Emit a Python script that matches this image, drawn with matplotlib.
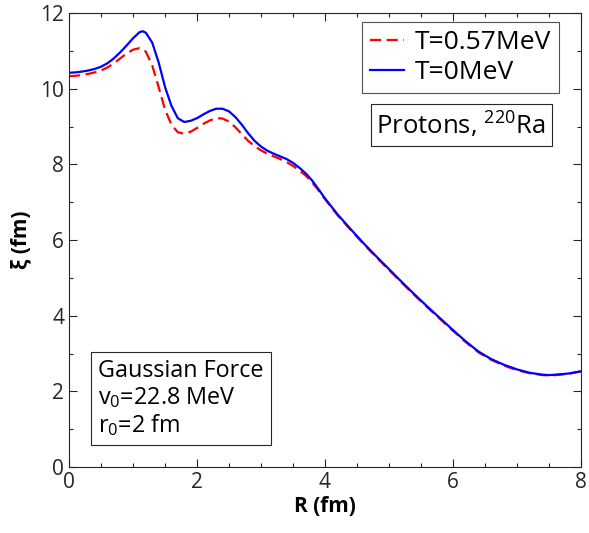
import matplotlib

matplotlib.use("Agg")
import matplotlib.pyplot as plt
from matplotlib.ticker import MultipleLocator

# radius grid (fm)
r_fm = [0.0, 0.1, 0.2, 0.3, 0.4, 0.5, 0.6, 0.7, 0.8, 0.9,
        1.0, 1.1, 1.15, 1.2, 1.3, 1.4, 1.5, 1.6, 1.7, 1.8, 1.9,
        2.0, 2.1, 2.2, 2.3, 2.4, 2.5, 2.6, 2.7, 2.8, 2.9,
        3.0, 3.1, 3.2, 3.3, 3.4, 3.5, 3.6, 3.7, 3.8, 3.9,
        4.0, 4.2, 4.4, 4.6, 4.8, 5.0, 5.2, 5.4, 5.6, 5.8,
        6.0, 6.2, 6.4, 6.6, 6.8, 7.0, 7.2, 7.4, 7.5, 7.6, 7.8, 8.0]

# coherence length, T = 0 MeV
xi_t0 = [10.42, 10.43, 10.45, 10.48, 10.52, 10.58, 10.67, 10.80, 10.96, 11.14,
         11.33, 11.49, 11.52, 11.48, 11.22, 10.70, 10.05, 9.55, 9.22, 9.12, 9.15,
         9.22, 9.32, 9.41, 9.47, 9.47, 9.40, 9.25, 9.05, 8.82, 8.62,
         8.47, 8.36, 8.28, 8.21, 8.14, 8.04, 7.91, 7.76, 7.57, 7.34,
         7.10, 6.67, 6.29, 5.92, 5.57, 5.23, 4.89, 4.56, 4.24, 3.93,
         3.62, 3.32, 3.05, 2.85, 2.70, 2.58, 2.49, 2.44, 2.43, 2.44, 2.47, 2.53]

# coherence length, T = 0.57 MeV
xi_t057 = [10.33, 10.34, 10.36, 10.39, 10.43, 10.48, 10.56, 10.67, 10.80, 10.93,
           11.03, 11.07, 11.05, 10.98, 10.62, 10.05, 9.45, 9.05, 8.85, 8.81, 8.86,
           8.96, 9.07, 9.16, 9.22, 9.21, 9.13, 8.98, 8.80, 8.62, 8.48,
           8.37, 8.28, 8.21, 8.14, 8.06, 7.96, 7.84, 7.70, 7.52, 7.31,
           7.08, 6.65, 6.27, 5.90, 5.55, 5.21, 4.87, 4.54, 4.22, 3.91,
           3.60, 3.30, 3.03, 2.83, 2.68, 2.56, 2.48, 2.43, 2.42, 2.43, 2.46, 2.53]

plt.rcParams["font.family"] = ["Open Sans", "DejaVu Sans"]
plt.rcParams["mathtext.fontset"] = "custom"
plt.rcParams["mathtext.rm"] = "Open Sans"
plt.rcParams["mathtext.it"] = "Open Sans"

text_col = "#262626"

fig = plt.figure(figsize=(5.89, 5.33), dpi=100)
ax = fig.add_axes([0.1171, 0.1238, 0.8693, 0.8518])

ax.plot(r_fm, xi_t057, color="red", lw=1.6, ls=(0, (5, 2.5)), label="T=0.57MeV")
ax.plot(r_fm, xi_t0, color="blue", lw=1.6, label="T=0MeV")

ax.set_xlim(0, 8)
ax.set_ylim(0, 12)
ax.xaxis.set_major_locator(MultipleLocator(2))
ax.xaxis.set_minor_locator(MultipleLocator(0.5))
ax.yaxis.set_major_locator(MultipleLocator(2))
ax.yaxis.set_minor_locator(MultipleLocator(1))
ax.tick_params(which="both", direction="in", top=True, right=True,
               colors=text_col, labelsize=15, width=0.8)
ax.tick_params(which="major", length=6)
ax.tick_params(which="minor", length=3)
for sp in ax.spines.values():
    sp.set_color(text_col)
    sp.set_linewidth(0.8)

ax.set_xlabel("R (fm)", fontsize=15, fontweight="bold", color="black", labelpad=2)
ax.set_ylabel("ξ (fm)", fontsize=15, fontweight="bold", color="black", labelpad=6)

leg = ax.legend(loc="upper right", bbox_to_anchor=(0.957, 0.98), fontsize=19,
                frameon=True, fancybox=False, edgecolor=text_col,
                handlelength=1.3, handletextpad=0.4, borderpad=0.3,
                labelspacing=0.2, borderaxespad=0)
leg.get_frame().set_linewidth(0.8)

ax.text(0.766, 0.753, "Protons, $^{220}$Ra", transform=ax.transAxes,
        ha="center", va="center", fontsize=18.5,
        bbox=dict(boxstyle="square,pad=0.22", fc="white", ec=text_col, lw=0.8))

ax.text(0.057, 0.064, "Gaussian Force\nv$_0$=22.8 MeV\nr$_0$=2 fm",
        transform=ax.transAxes, ha="left", va="bottom", fontsize=16.8,
        linespacing=1.1,
        bbox=dict(boxstyle="square,pad=0.3", fc="white", ec=text_col, lw=0.8))

fig.savefig("out.png", dpi=100)
